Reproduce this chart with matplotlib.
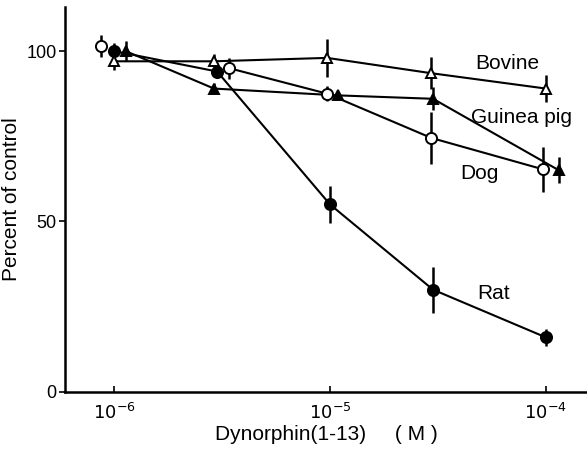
import matplotlib.pyplot as plt
from matplotlib.ticker import FixedLocator, NullLocator

plt.rcParams['font.family'] = ['Liberation Sans', 'DejaVu Sans']

# ------------------------------------------------------------
# Data (x = dynorphin concentration, M)
# ------------------------------------------------------------
rat_x = [1.0e-6, 3.0e-6, 1.0e-5, 3.0e-5, 1.0e-4]
rat_y = [100, 94, 55, 30, 16]
rat_err = [2.5, 1.5, 5.5, 6.7, 2.5]

bovine_x = [1.0e-6, 2.9e-6, 0.97e-5, 2.95e-5, 1.0e-4]
bovine_y = [97, 97, 98, 93.5, 89]
bovine_err = [2.5, 2.2, 5.5, 4.7, 4.0]

guinea_x = [1.13e-6, 2.9e-6, 1.09e-5, 3.0e-5, 1.15e-4]
guinea_y = [100, 89, 87, 86, 65]
guinea_err = [3.0, 1.5, 1.0, 3.4, 3.8]

dog_x = [0.87e-6, 3.4e-6, 0.97e-5, 2.95e-5, 0.97e-4]
dog_y = [101.5, 95, 87.5, 74.5, 65.3]
dog_err = [3.2, 3.1, 2.2, 7.5, 6.5]

labels = ["Bovine", "Guinea pig", "Dog", "Rat"]
label_x = [4.7e-5, 4.5e-5, 4.0e-5, 4.8e-5]
label_y = [96.5, 80.5, 64, 29]

tick_x = [1e-6, 1e-5, 1e-4]
tick_x_labels = [r"$10^{-6}$", r"$10^{-5}$", r"$10^{-4}$"]
tick_y = [0, 50, 100]

# ------------------------------------------------------------
# Figure
# ------------------------------------------------------------
fig = plt.figure(figsize=(5.87, 4.51), dpi=100)
ax = fig.add_axes([0.111, 0.131, 0.889, 0.854])

series = [
    (bovine_x, bovine_y, bovine_err, "^", "white", 0),
    (guinea_x, guinea_y, guinea_err, "^", "black", 0),
    (dog_x, dog_y, dog_err, "o", "white", 1),
    (rat_x, rat_y, rat_err, "o", "black", 0),
]

for xs, ys, errs, mk, fc, start in series:
    ax.errorbar(xs, ys, yerr=errs, fmt="none", ecolor="black",
                elinewidth=1.8, capsize=0, zorder=2)
    ax.plot(xs[start:], ys[start:], color="black", lw=1.5, zorder=1)
    ax.plot(xs, ys, linestyle="none", marker=mk,
            markersize=8 if mk == "o" else 7.5,
            markerfacecolor=fc, markeredgecolor="black",
            markeredgewidth=1.4, zorder=3)

for t, x, y in zip(labels, label_x, label_y):
    ax.text(x, y, t, fontsize=15, ha="left", va="center")

ax.set_xscale("log")
ax.set_xlim(5.93e-7, 1.55e-4)
ax.set_ylim(0, 113)

ax.xaxis.set_major_locator(FixedLocator(tick_x))
ax.xaxis.set_minor_locator(NullLocator())
ax.set_xticklabels(tick_x_labels)
ax.set_yticks(tick_y)

ax.tick_params(axis="x", direction="in", length=4, width=1.2,
               labelsize=13, pad=8)
ax.tick_params(axis="y", direction="out", length=4, width=1.2,
               labelsize=13, pad=2)

for s in ["top", "right"]:
    ax.spines[s].set_visible(False)
for s in ["left", "bottom"]:
    ax.spines[s].set_linewidth(1.8)

ax.set_xlabel("Dynorphin(1-13)     ( M )", fontsize=15, labelpad=1)
ax.set_ylabel("Percent of control", fontsize=15, labelpad=4)

fig.savefig("out.png", dpi=100)
